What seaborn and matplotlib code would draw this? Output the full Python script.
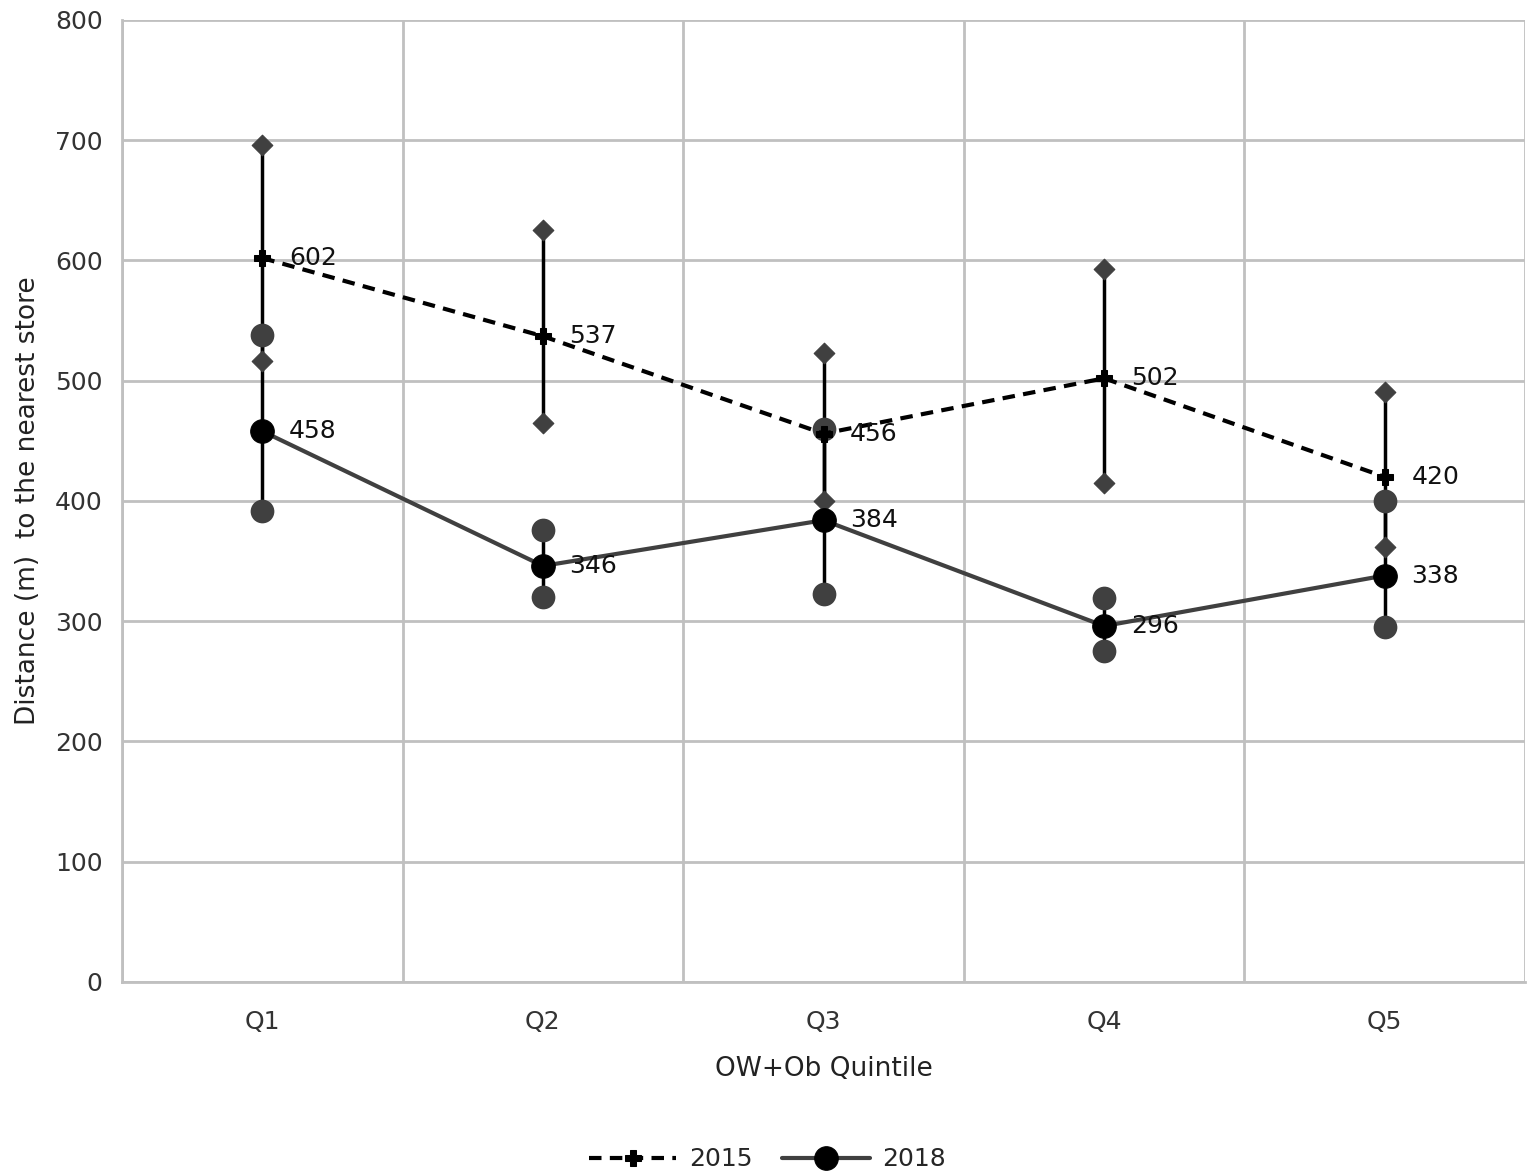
import numpy as np
import pandas as pd
import matplotlib
matplotlib.use("Agg")
import matplotlib.pyplot as plt
import seaborn as sns

# values
quintiles = ['Q1', 'Q2', 'Q3', 'Q4', 'Q5']
mean_2015 = [602, 537, 456, 502, 420]
low_2015 = [516, 465, 400, 415, 362]
high_2015 = [696, 625, 523, 593, 491]
mean_2018 = [458, 346, 384, 296, 338]
low_2018 = [392, 320, 323, 275, 295]
high_2018 = [538, 376, 460, 319, 400]

pos = np.arange(len(quintiles))
df = pd.DataFrame({
    'x': np.concatenate([pos, pos]),
    'mean': mean_2015 + mean_2018,
    'low': low_2015 + low_2018,
    'high': high_2015 + high_2018,
    'year': ['2015'] * 5 + ['2018'] * 5,
})

sns.set_theme(style="white")
plt.rcParams['font.family'] = ['DejaVu Sans']

fig = plt.figure(figsize=(15.35, 11.75), dpi=100)
ax = fig.add_axes([0.0795, 0.1643, 0.914, 0.8187])

grid_c = '#c0c0c0'
mark_c = '#404040'

# error bars (vertical lines) first
for _, r in df.iterrows():
    ax.vlines(r['x'], r['low'], r['high'], color='black', lw=2.5, zorder=3)

# error-bar end markers
ends = pd.concat([
    df[['x', 'year']].assign(v=df['low']),
    df[['x', 'year']].assign(v=df['high']),
])
sns.scatterplot(data=ends[ends.year == '2015'], x='x', y='v', marker='D', s=110,
                color=mark_c, edgecolor=mark_c, ax=ax, zorder=4, legend=False)
sns.scatterplot(data=ends[ends.year == '2018'], x='x', y='v', marker='o', s=250,
                color=mark_c, edgecolor=mark_c, ax=ax, zorder=4, legend=False)

# mean lines
d15 = df[df.year == '2015']
d18 = df[df.year == '2018']
sns.lineplot(data=d15, x='x', y='mean', color='black', lw=3, ax=ax,
             linestyle=(0, (3, 2)), marker='P', markersize=12,
             markeredgecolor='black', zorder=5, label='2015')
sns.lineplot(data=d18, x='x', y='mean', color=mark_c, lw=3, ax=ax,
             marker='o', markersize=17, markerfacecolor='black',
             markeredgecolor='black', zorder=5, label='2018')

for _, r in df.iterrows():
    ax.text(r['x'] + 0.095, r['mean'], f"{r['mean']}", fontsize=18,
            va='center', ha='left', color='#111111', zorder=6)

ax.set_xlim(-0.5, 4.5)
ax.set_ylim(0, 800)
ax.set_yticks(range(0, 801, 100))
ax.set_xticks(pos)
ax.set_xticklabels(quintiles)
ax.set_xticks(np.arange(-0.5, 4.6, 1), minor=True)
ax.tick_params(axis='both', which='both', length=0, labelsize=18, colors='#333333')
ax.tick_params(axis='x', pad=20)
ax.tick_params(axis='y', pad=14)
ax.grid(True, axis='y', which='major', color=grid_c, lw=2)
ax.grid(True, axis='x', which='minor', color=grid_c, lw=2)
ax.grid(False, axis='x', which='major')
for s in ['top', 'right']:
    ax.spines[s].set_visible(False)
for s in ['left', 'bottom']:
    ax.spines[s].set_color(grid_c)
    ax.spines[s].set_linewidth(2)

ax.set_xlabel('OW+Ob Quintile', fontsize=19, color='#222222', labelpad=16)
ax.set_ylabel('Distance (m)  to the nearest store', fontsize=19, color='#222222', labelpad=10)

handles, labels = ax.get_legend_handles_labels()
ax.legend_.remove()
fig.legend(handles, labels, loc='lower center', bbox_to_anchor=(0.5, -0.016), ncol=2,
           frameon=False, fontsize=18, handlelength=3.5, handletextpad=0.5,
           columnspacing=1.2)

fig.savefig('out.png', dpi=100)
